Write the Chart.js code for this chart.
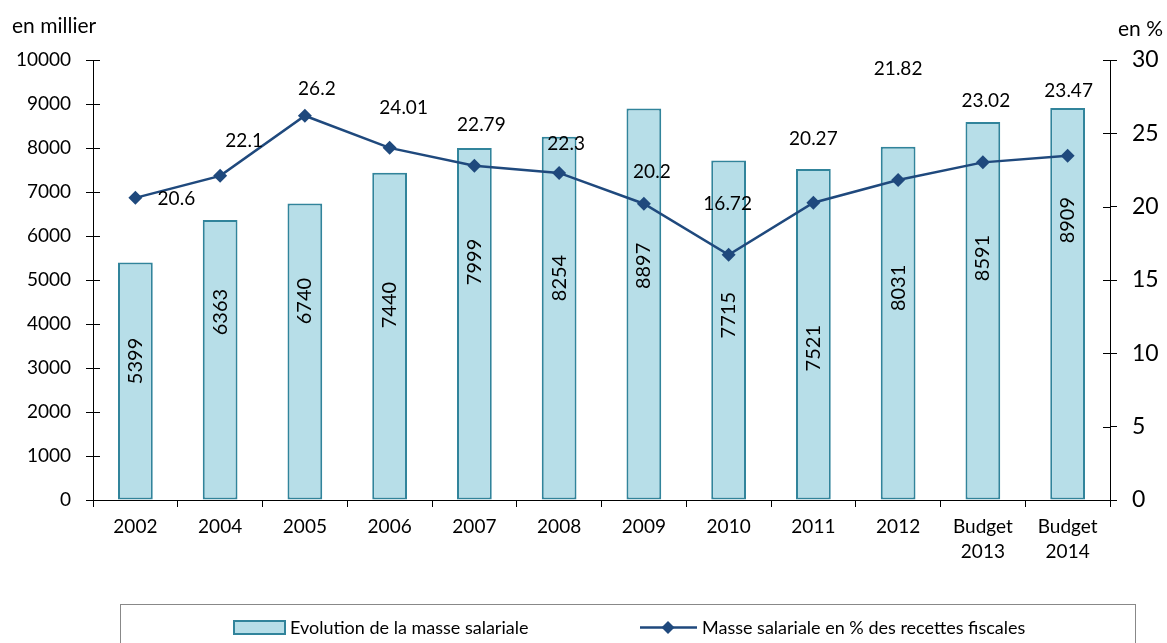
<!DOCTYPE html>
<html>
<head>
<meta charset="utf-8">
<script src="https://cdn.jsdelivr.net/npm/chart.js@4"></script>
<style>
    body { margin: 0; background: #fff; }
    canvas { display: block; }
</style>
</head>
<body>
<canvas id="masseChart" width="1167" height="643"></canvas>
<script>
// 数据
const categories = ['2002', '2004', '2005', '2006', '2007', '2008', '2009', '2010', '2011', '2012', ['Budget', '2013'], ['Budget', '2014']];
const masseSalariale = [5399, 6363, 6740, 7440, 7999, 8254, 8897, 7715, 7521, 8031, 8591, 8909];
const pourcentRecettes = [20.6, 22.1, 26.2, 24.01, 22.79, 22.3, 20.2, 16.72, 20.27, 21.82, 23.02, 23.47];

// 标签位置（柱内竖排数字的高度，按左轴数值）
const barLabelLevel = [3160, 4270, 4520, 4430, 5410, 5045, 5320, 4200, 3450, 4820, 5500, 6360];
// 折线数据标签相对点的偏移（像素）
const lineLabelDx = [41, 24, 12, 14, 7, 7, 8, -1, 0, 0, 3, 1];
const lineLabelDy = [1, -35, -27, -40, -41, -29, -32, -51, -64, -111, -61, -65];

const barFill = '#b7dee8';
const barBorder = '#31849b';
const lineColor = '#1f497d';

Chart.defaults.font.family = 'Lato';
Chart.defaults.color = '#000';

// 数据标签
const labelPlugin = {
    id: 'dataLabels',
    afterDatasetsDraw(chart) {
        const ctx = chart.ctx;
        const yL = chart.scales.y;
        const barMeta = chart.getDatasetMeta(0);
        const lineMeta = chart.getDatasetMeta(1);
        ctx.save();
        ctx.fillStyle = '#000';
        ctx.textAlign = 'center';
        ctx.textBaseline = 'middle';
        ctx.font = '20px Lato';
        barMeta.data.forEach((bar, i) => {
            ctx.save();
            ctx.translate(bar.x, yL.getPixelForValue(barLabelLevel[i]));
            ctx.rotate(-Math.PI / 2);
            ctx.fillText(String(masseSalariale[i]), 0, 0);
            ctx.restore();
        });
        ctx.font = '19px Lato';
        lineMeta.data.forEach((pt, i) => {
            ctx.fillText(String(pourcentRecettes[i]), pt.x + lineLabelDx[i], pt.y + lineLabelDy[i]);
        });
        ctx.restore();
    }
};

// 轴单位、内侧刻度和图例
const decorPlugin = {
    id: 'decor',
    afterDraw(chart) {
        const ctx = chart.ctx;
        const area = chart.chartArea;
        const yL = chart.scales.y;
        const yR = chart.scales.y1;
        ctx.save();

        // 内侧刻度
        ctx.strokeStyle = '#000';
        ctx.lineWidth = 1;
        ctx.beginPath();
        yL.ticks.forEach(t => {
            const y = Math.round(yL.getPixelForValue(t.value)) + 0.5;
            ctx.moveTo(area.left, y);
            ctx.lineTo(area.left + 7, y);
        });
        yR.ticks.forEach(t => {
            const y = Math.round(yR.getPixelForValue(t.value)) + 0.5;
            ctx.moveTo(area.right - 7, y);
            ctx.lineTo(area.right, y);
        });
        ctx.stroke();

        // 单位
        ctx.fillStyle = '#000';
        ctx.font = '21px Lato';
        ctx.textBaseline = 'middle';
        ctx.textAlign = 'left';
        ctx.fillText('en millier', 12, 26);
        ctx.textAlign = 'right';
        ctx.fillText('en %', 1163, 29);

        // 图例
        ctx.strokeStyle = '#888';
        ctx.lineWidth = 1;
        ctx.strokeRect(120.5, 604.5, 1015, 60);

        ctx.fillStyle = barFill;
        ctx.fillRect(234, 621, 51, 13);
        ctx.strokeStyle = barBorder;
        ctx.lineWidth = 2;
        ctx.strokeRect(234, 621, 51, 13);

        ctx.strokeStyle = lineColor;
        ctx.lineWidth = 2.5;
        ctx.beginPath();
        ctx.moveTo(640, 627.5);
        ctx.lineTo(697, 627.5);
        ctx.stroke();
        ctx.fillStyle = lineColor;
        ctx.beginPath();
        ctx.moveTo(668, 621);
        ctx.lineTo(674.5, 627.5);
        ctx.lineTo(668, 634);
        ctx.lineTo(661.5, 627.5);
        ctx.closePath();
        ctx.fill();

        ctx.fillStyle = '#000';
        ctx.font = '18px Lato';
        ctx.textAlign = 'left';
        ctx.fillText('Evolution de la masse salariale', 290, 628);
        ctx.fillText('Masse salariale en % des recettes fiscales', 702, 628);

        ctx.restore();
    }
};

const ctx = document.getElementById('masseChart').getContext('2d');
const masseChart = new Chart(ctx, {
    type: 'bar',
    data: {
        labels: categories,
        datasets: [{
            type: 'bar',
            label: 'Evolution de la masse salariale',
            data: masseSalariale,
            yAxisID: 'y',
            backgroundColor: barFill,
            borderColor: barBorder,
            borderWidth: 2,
            borderSkipped: false,
            barPercentage: 0.41,
            categoryPercentage: 1,
            order: 2
        }, {
            type: 'line',
            label: 'Masse salariale en % des recettes fiscales',
            data: pourcentRecettes,
            yAxisID: 'y1',
            borderColor: lineColor,
            backgroundColor: lineColor,
            borderWidth: 2.5,
            pointStyle: 'rectRot',
            pointRadius: 7,
            pointBorderWidth: 0,
            tension: 0,
            order: 1
        }]
    },
    options: {
        responsive: false,
        animation: false,
        devicePixelRatio: 1,
        layout: {
            padding: { top: 60, bottom: 63, left: 0, right: 0 }
        },
        plugins: {
            legend: { display: false },
            tooltip: { enabled: false }
        },
        scales: {
            x: {
                offset: true,
                grid: {
                    offset: true,
                    drawOnChartArea: false,
                    drawTicks: true,
                    tickLength: 7,
                    color: '#000'
                },
                border: { color: '#000', width: 1 },
                ticks: {
                    font: { size: 19, lineHeight: 1.28 },
                    padding: 8,
                    maxRotation: 0,
                    autoSkip: false
                },
                afterFit(scale) { scale.height = 80; }
            },
            y: {
                position: 'left',
                min: 0,
                max: 10000,
                ticks: {
                    stepSize: 1000,
                    font: { size: 19 },
                    padding: 15,
                    callback: v => String(v)
                },
                grid: {
                    drawOnChartArea: false,
                    drawTicks: true,
                    tickLength: 7,
                    color: '#000'
                },
                border: { color: '#000', width: 1 },
                afterFit(scale) { scale.width = 93; }
            },
            y1: {
                position: 'right',
                min: 0,
                max: 30,
                ticks: {
                    stepSize: 5,
                    font: { size: 23 },
                    padding: 15,
                    callback: v => String(v)
                },
                grid: {
                    drawOnChartArea: false,
                    drawTicks: true,
                    tickLength: 7,
                    color: '#000'
                },
                border: { color: '#000', width: 1 },
                afterFit(scale) { scale.width = 57; }
            }
        }
    },
    plugins: [labelPlugin, decorPlugin]
});
</script>
</body>
</html>
